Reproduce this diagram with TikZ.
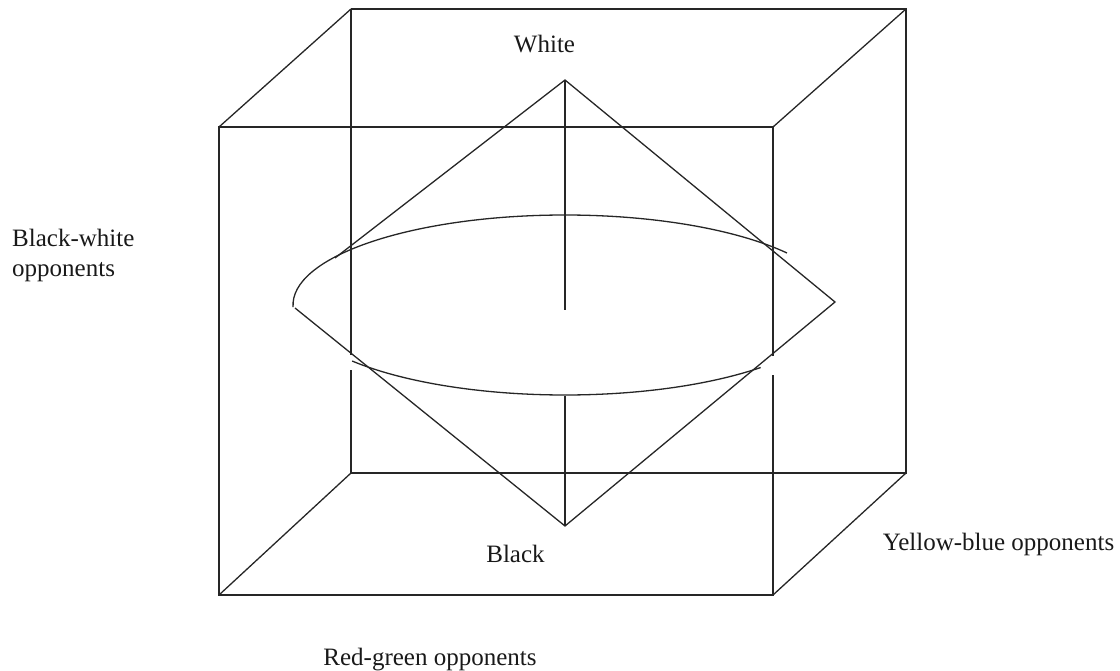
\documentclass[tikz,border=0pt]{standalone}
\usepackage{fontspec}
\setmainfont{Liberation Serif}
\begin{document}
\begin{tikzpicture}[x=1pt,y=-1pt,
  edge/.style={draw=black!85, line width=1.3pt, line join=miter},
  lbl/.style={font=\fontsize{25}{30}\selectfont, inner sep=0pt, text=black!90}]
\useasboundingbox (0,0) rectangle (1120,671);
% cube corners
\coordinate (fTL) at (219,127);
\coordinate (fTR) at (773,127);
\coordinate (fBL) at (219,595);
\coordinate (fBR) at (773,595);
\coordinate (bTL) at (351,9);
\coordinate (bTR) at (906,9);
\coordinate (bBL) at (351,473);
\coordinate (bBR) at (906,473);
\coordinate (bGapA) at (351,355);
\coordinate (bGapB) at (351,370);
\coordinate (fGapA) at (773,356);
\coordinate (fGapB) at (773,375);
% back square
\draw[edge] (bTL) -- (bGapA);
\draw[edge] (bGapB) -- (bBL) -- (bBR) -- (bTR) -- (bTL);
% front square
\draw[edge] (fGapA) -- (fTR) -- (fTL) -- (fBL) -- (fBR) -- (fGapB);
% depth edges
\draw[edge] (fTL) -- (bTL);
\draw[edge] (fTR) -- (bTR);
\draw[edge] (fBL) -- (bBL);
\draw[edge] (fBR) -- (bBR);
% diamond
\coordinate (T) at (565,80);
\coordinate (R) at (835,302);
\coordinate (B) at (565,526);
\coordinate (L) at (295,308);
\coordinate (M) at (335,258);
\draw[edge] (M) -- (T) -- (R) -- (B) -- (L);
% vertical axis
\coordinate (axA) at (565,310);
\coordinate (axB) at (565,396);
\draw[edge] (T) -- (axA);
\draw[edge] (axB) -- (B);
% ellipse arcs
\coordinate (C) at (565,305);
\draw[edge] (C) ++(178.7:272 and 90) arc[start angle=178.7, end angle=324.7, x radius=272, y radius=90];
\draw[edge] (C) ++(141.5:272 and 90) arc[start angle=141.5, end angle=44, x radius=272, y radius=90];
% labels
\node[lbl, anchor=base] (white) at (544.5,53) {White};
\node[lbl, anchor=base] (black) at (515.5,562) {Black};
\node[lbl, anchor=base] (yb) at (998.5,550) {Yellow-blue opponents};
\node[lbl, anchor=base] (rg) at (430,665) {Red-green opponents};
\node[lbl, anchor=base west] (bw1) at (12,247) {Black-white};
\node[lbl, anchor=base west] (bw2) at (12,277) {opponents};
\end{tikzpicture}
\end{document}
